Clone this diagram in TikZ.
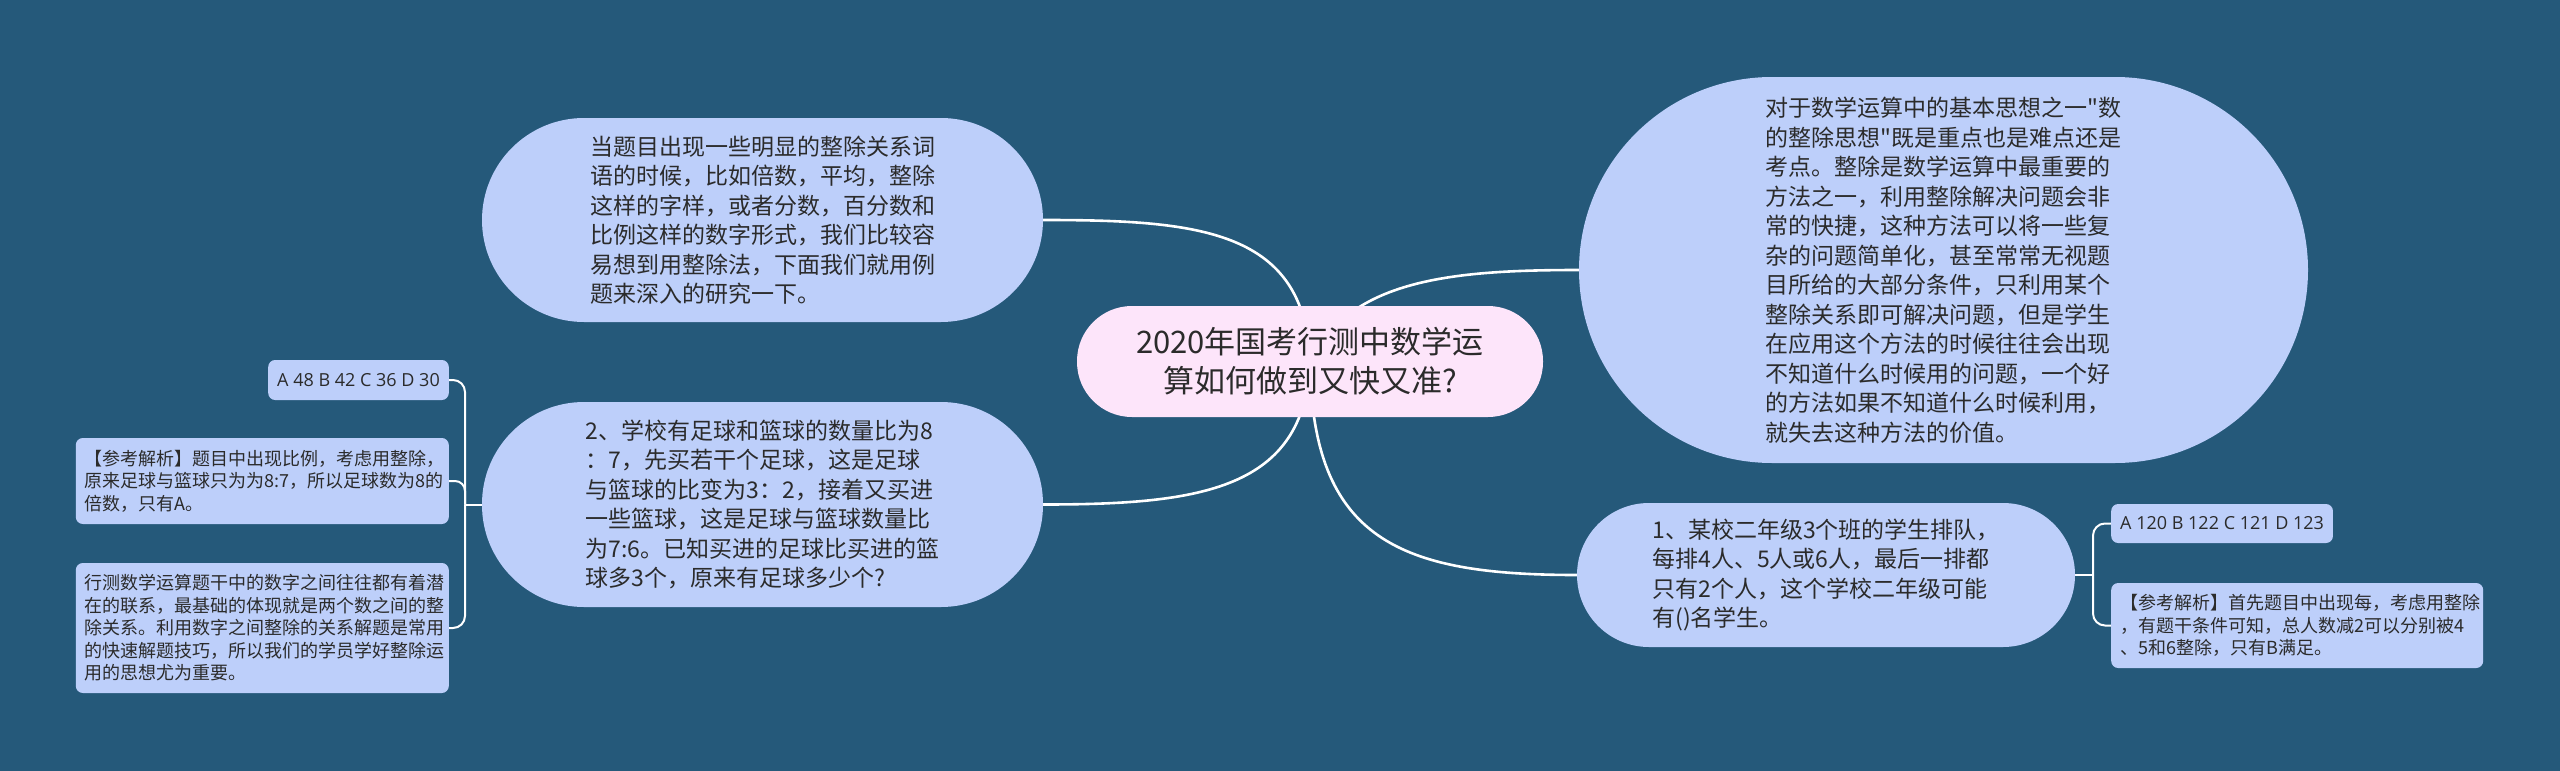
\documentclass[tikz,border=0pt]{standalone}
\usepackage{fontspec}
\setmainfont{Noto Sans CJK SC}[Ligatures=TeXOff]
\newfontfamily\latinf{Open Sans}
\usetikzlibrary{backgrounds}
\definecolor{bgblue}{HTML}{25597A}
\definecolor{nodebl}{HTML}{BDCFFA}
\definecolor{rootpk}{HTML}{FDE5FA}
\definecolor{ink}{HTML}{2B2B2B}
\tikzset{
  root/.style ={fill=rootpk, text=ink, align=center, inner sep=0pt,
                font=\fontsize{31pt}{39pt}\selectfont,
                minimum width=466pt, minimum height=111pt, rounded corners=55pt},
  topic/.style={fill=nodebl, text=ink, align=left, inner sep=0pt,
                font=\fontsize{23pt}{29.5pt}\selectfont},
  leaf/.style ={fill=nodebl, text=ink, align=left, rounded corners=7pt,
                inner xsep=9pt, inner ysep=0pt,
                font=\fontsize{18pt}{22.5pt}\selectfont},
  link/.style ={draw=white, line width=2.6pt},
  brk/.style  ={draw=white, line width=2pt},
}

\begin{document}
\begin{tikzpicture}[x=1pt, y=-1pt]

  % ---- central topic ----
  \node[root] (ctr) at (1310,361.5) {2020年国考行测中数学运\\算如何做到又快又准?};

  % ---- left branches ----
  \node[topic, minimum width=561pt, minimum height=204pt, rounded corners=102pt]
    (intro) at (762.5,220) {当题目出现一些明显的整除关系词\\语的时候，比如倍数，平均，整除\\这样的字样，或者分数，百分数和\\比例这样的数字形式，我们比较容\\易想到用整除法，下面我们就用例\\题来深入的研究一下。};
  \node[topic, minimum width=561pt, minimum height=205pt, rounded corners=102pt]
    (q2) at (762.5,504.5) {2、学校有足球和篮球的数量比为8\\：7，先买若干个足球，这是足球\\与篮球的比变为3：2，接着又买进\\一些篮球，这是足球与篮球数量比\\为7:6。已知买进的足球比买进的篮\\球多3个，原来有足球多少个?};

  % ---- right branches ----
  \node[topic, minimum width=729pt, minimum height=386pt, rounded corners=193pt]
    (idea) at (1943.5,270) {对于数学运算中的基本思想之一"数\\的整除思想"既是重点也是难点还是\\考点。整除是数学运算中最重要的\\方法之一，利用整除解决问题会非\\常的快捷，这种方法可以将一些复\\杂的问题简单化，甚至常常无视题\\目所给的大部分条件，只利用某个\\整除关系即可解决问题，但是学生\\在应用这个方法的时候往往会出现\\不知道什么时候用的问题，一个好\\的方法如果不知道什么时候利用，\\就失去这种方法的价值。};
  \node[topic, minimum width=498pt, minimum height=144pt, rounded corners=72pt]
    (q1) at (1826,575) {1、某校二年级3个班的学生排队，\\每排4人、5人或6人，最后一排都\\只有2个人，这个学校二年级可能\\有()名学生。};

  % ---- leaves of question 2 ----
  \node[leaf, anchor=east, minimum height=40pt] (q2ans) at (449,380) {\latinf A 48 B 42 C 36 D 30};
  \node[leaf, anchor=east, text width=355pt, minimum height=86pt]
    (q2key) at (449,481) {【参考解析】题目中出现比例，考虑用整除，\\原来足球与篮球只为为8:7，所以足球数为8的\\倍数，只有A。};
  \node[leaf, anchor=east, text width=355pt, minimum height=130pt]
    (q2tip) at (449,628) {行测数学运算题干中的数字之间往往都有着潜\\在的联系，最基础的体现就是两个数之间的整\\除关系。利用数字之间整除的关系解题是常用\\的快速解题技巧，所以我们的学员学好整除运\\用的思想尤为重要。};

  % ---- leaves of question 1 ----
  \node[leaf, anchor=west, minimum height=39pt] (q1ans) at (2111,523.5) {\latinf A 120 B 122 C 121 D 123};
  \node[leaf, anchor=west, text width=354pt, minimum height=85pt]
    (q1key) at (2111,625.5) {【参考解析】首先题目中出现每，考虑用整除\\，有题干条件可知，总人数减2可以分别被4\\、5和6整除，只有B满足。};

  % bracket joints
  \coordinate (lj) at (465,504.5);
  \coordinate (rj) at (2093,575);

  \begin{scope}[on background layer]
    \fill[bgblue] (0,0) rectangle (2560,771);
    % ---- curved links from the centre ----
    \draw[link] (ctr.center) .. controls (1305,230) and (1200,220) .. (intro.east);
    \draw[link] (ctr.center) .. controls (1305,490) and (1200,504.5) .. (q2.east);
    \draw[link] (ctr.center) .. controls (1350,280) and (1450,270) .. (idea.west);
    \draw[link] (ctr.center) .. controls (1312,540) and (1400,575) .. (q1.west);
    % ---- brackets ----
    \draw[brk] (q2.west) -- (lj);
    \draw[brk, rounded corners=12pt] (lj) |- (q2ans.east);
    \draw[brk, rounded corners=10pt] (lj) |- (q2key.east);
    \draw[brk, rounded corners=12pt] (lj) |- (q2tip.east);
    \draw[brk] (q1.east) -- (rj);
    \draw[brk, rounded corners=12pt] (rj) |- (q1ans.west);
    \draw[brk, rounded corners=12pt] (rj) |- (q1key.west);
  \end{scope}

\end{tikzpicture}
\end{document}
